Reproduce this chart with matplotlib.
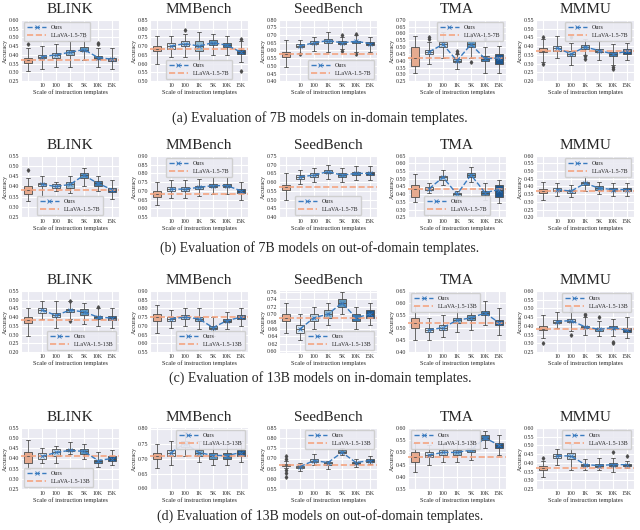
import matplotlib
matplotlib.use('Agg')
import matplotlib.pyplot as plt
import seaborn as sns

sns.set_style('darkgrid')
plt.rcParams['font.family'] = ['Liberation Serif', 'DejaVu Serif']

benchmarks = ['BLINK', 'MMBench', 'SeedBench', 'TMA', 'MMMU']
scales = ['', '10', '100', '1K', '5K', '10K', '15K']
captions = ['(a) Evaluation of 7B models on in-domain templates.',
            '(b) Evaluation of 7B models on out-of-domain templates.',
            '(c) Evaluation of 13B models on in-domain templates.',
            '(d) Evaluation of 13B models on out-of-domain templates.']
baselines = ['LLaVA-1.5-7B', 'LLaVA-1.5-7B', 'LLaVA-1.5-13B', 'LLaVA-1.5-13B']

# (a) 7B in-domain; first box of each panel is the baseline
a_med = [[0.37, 0.39, 0.40, 0.415, 0.43, 0.385, 0.375],
         [0.685, 0.70, 0.715, 0.70, 0.72, 0.705, 0.665],
         [0.575, 0.63, 0.65, 0.665, 0.65, 0.66, 0.645],
         [0.42, 0.465, 0.52, 0.40, 0.52, 0.415, 0.42],
         [0.375, 0.39, 0.355, 0.395, 0.375, 0.355, 0.37]]
a_q1 = [[0.355, 0.38, 0.385, 0.40, 0.42, 0.375, 0.365],
        [0.67, 0.685, 0.70, 0.67, 0.705, 0.695, 0.655],
        [0.56, 0.625, 0.64, 0.65, 0.64, 0.65, 0.635],
        [0.36, 0.45, 0.50, 0.39, 0.50, 0.395, 0.375],
        [0.365, 0.375, 0.345, 0.385, 0.365, 0.345, 0.355]]
a_q3 = [[0.385, 0.40, 0.41, 0.43, 0.445, 0.395, 0.385],
        [0.70, 0.72, 0.73, 0.73, 0.735, 0.72, 0.68],
        [0.59, 0.64, 0.66, 0.675, 0.66, 0.665, 0.655],
        [0.50, 0.48, 0.54, 0.41, 0.545, 0.435, 0.45],
        [0.39, 0.40, 0.37, 0.405, 0.385, 0.365, 0.385]]
a_lo = [[0.31, 0.32, 0.33, 0.33, 0.37, 0.33, 0.32],
        [0.60, 0.64, 0.64, 0.60, 0.65, 0.65, 0.61],
        [0.49, 0.585, 0.60, 0.59, 0.61, 0.59, 0.59],
        [0.31, 0.38, 0.42, 0.34, 0.42, 0.31, 0.31],
        [0.31, 0.33, 0.29, 0.35, 0.32, 0.29, 0.32]]
a_hi = [[0.44, 0.45, 0.46, 0.48, 0.50, 0.44, 0.44],
        [0.76, 0.76, 0.77, 0.78, 0.77, 0.76, 0.73],
        [0.67, 0.67, 0.69, 0.72, 0.69, 0.70, 0.69],
        [0.58, 0.54, 0.61, 0.45, 0.60, 0.50, 0.51],
        [0.44, 0.46, 0.42, 0.44, 0.43, 0.41, 0.42]]
a_out = [[[0.46], [], [], [], [], [0.46, 0.47], []],
         [[], [], [0.79], [], [], [], [0.74, 0.56]],
         [[], [0.58], [], [], [0.70, 0.60], [0.71, 0.58], []],
         [[], [0.56, 0.57], [], [0.46, 0.47], [0.39], [0.56], []],
         [[0.30, 0.45], [], [0.45], [0.345, 0.325], [], [0.28, 0.27], []]]
a_ylim = [(0.25, 0.60), (0.50, 0.85), (0.40, 0.80), (0.25, 0.70), (0.20, 0.55)]
a_leg = ['upper left', 'lower center', 'lower right', 'upper right', 'upper right']

# (b) 7B out-of-domain
b_med = [[0.385, 0.41, 0.40, 0.41, 0.455, 0.415, 0.385],
         [0.68, 0.71, 0.71, 0.72, 0.73, 0.73, 0.70],
         [0.57, 0.63, 0.64, 0.66, 0.64, 0.65, 0.65],
         [0.435, 0.435, 0.51, 0.40, 0.525, 0.41, 0.43],
         [0.37, 0.38, 0.37, 0.42, 0.39, 0.38, 0.38]]
b_q1 = [[0.365, 0.40, 0.395, 0.395, 0.44, 0.40, 0.375],
        [0.665, 0.70, 0.70, 0.71, 0.72, 0.72, 0.69],
        [0.555, 0.62, 0.63, 0.65, 0.63, 0.64, 0.64],
        [0.38, 0.425, 0.495, 0.39, 0.51, 0.395, 0.38],
        [0.355, 0.37, 0.36, 0.41, 0.38, 0.37, 0.37]]
b_q3 = [[0.40, 0.415, 0.41, 0.42, 0.465, 0.425, 0.395],
        [0.70, 0.72, 0.72, 0.73, 0.74, 0.74, 0.71],
        [0.585, 0.64, 0.65, 0.67, 0.65, 0.66, 0.66],
        [0.46, 0.445, 0.52, 0.405, 0.54, 0.42, 0.46],
        [0.385, 0.39, 0.38, 0.43, 0.40, 0.39, 0.39]]
b_lo = [[0.33, 0.35, 0.38, 0.37, 0.40, 0.38, 0.34],
        [0.62, 0.66, 0.66, 0.67, 0.68, 0.68, 0.65],
        [0.50, 0.59, 0.60, 0.62, 0.60, 0.61, 0.61],
        [0.35, 0.41, 0.46, 0.37, 0.48, 0.36, 0.34],
        [0.31, 0.34, 0.33, 0.37, 0.35, 0.34, 0.34]]
b_hi = [[0.44, 0.45, 0.42, 0.45, 0.49, 0.45, 0.43],
        [0.75, 0.76, 0.76, 0.77, 0.78, 0.78, 0.75],
        [0.65, 0.67, 0.68, 0.70, 0.68, 0.69, 0.69],
        [0.53, 0.47, 0.56, 0.42, 0.58, 0.47, 0.49],
        [0.43, 0.42, 0.41, 0.47, 0.43, 0.42, 0.42]]
b_out = [[[0.48], [], [], [], [], [], []],
         [[], [], [], [], [], [], []],
         [[], [], [], [], [], [], []],
         [[], [], [], [], [], [], []],
         [[], [], [], [], [], [], []]]
b_ylim = [(0.25, 0.55), (0.55, 0.90), (0.40, 0.75), (0.25, 0.65), (0.20, 0.60)]
b_leg = ['lower center', 'upper center', 'lower center', 'lower center', 'upper right']

# (c) 13B in-domain
c_med = [[0.385, 0.44, 0.41, 0.44, 0.43, 0.40, 0.395],
         [0.75, 0.74, 0.75, 0.74, 0.69, 0.73, 0.75],
         [0.69, 0.66, 0.69, 0.70, 0.73, 0.69, 0.70],
         [0.52, 0.49, 0.50, 0.53, 0.54, 0.56, 0.52],
         [0.385, 0.425, 0.43, 0.395, 0.38, 0.39, 0.375]]
c_q1 = [[0.365, 0.425, 0.40, 0.43, 0.415, 0.39, 0.385],
        [0.73, 0.73, 0.74, 0.73, 0.68, 0.72, 0.74],
        [0.68, 0.65, 0.68, 0.69, 0.72, 0.68, 0.69],
        [0.50, 0.48, 0.49, 0.52, 0.53, 0.55, 0.51],
        [0.375, 0.415, 0.42, 0.39, 0.37, 0.38, 0.365]]
c_q3 = [[0.40, 0.45, 0.425, 0.445, 0.445, 0.405, 0.405],
        [0.77, 0.75, 0.76, 0.75, 0.70, 0.74, 0.76],
        [0.70, 0.67, 0.70, 0.71, 0.74, 0.70, 0.71],
        [0.54, 0.50, 0.51, 0.54, 0.55, 0.57, 0.53],
        [0.40, 0.435, 0.44, 0.40, 0.39, 0.40, 0.39]]
c_lo = [[0.29, 0.39, 0.34, 0.39, 0.36, 0.35, 0.34],
        [0.66, 0.69, 0.70, 0.68, 0.64, 0.68, 0.70],
        [0.65, 0.63, 0.66, 0.67, 0.70, 0.66, 0.67],
        [0.45, 0.45, 0.46, 0.48, 0.49, 0.51, 0.47],
        [0.33, 0.39, 0.37, 0.35, 0.34, 0.34, 0.33]]
c_hi = [[0.45, 0.49, 0.49, 0.49, 0.48, 0.45, 0.45],
        [0.82, 0.79, 0.80, 0.80, 0.75, 0.78, 0.80],
        [0.73, 0.70, 0.72, 0.73, 0.76, 0.72, 0.73],
        [0.59, 0.54, 0.55, 0.58, 0.60, 0.61, 0.58],
        [0.46, 0.48, 0.48, 0.45, 0.43, 0.44, 0.45]]
c_out = [[[], [], [], [0.38, 0.495], [], [0.46], []],
         [[], [], [], [], [], [], []],
         [[], [], [], [], [], [], []],
         [[], [], [], [], [], [], []],
         [[0.30], [], [0.49, 0.50, 0.35], [0.46, 0.47], [0.45], [0.31, 0.305], []]]
c_ylim = [(0.20, 0.55), (0.55, 0.90), (0.60, 0.76), (0.40, 0.65), (0.25, 0.60)]
c_leg = ['lower right', 'lower right', 'lower right', 'upper left', 'upper right']

# (d) 13B out-of-domain
d_med = [[0.41, 0.41, 0.43, 0.44, 0.435, 0.39, 0.40],
         [0.71, 0.72, 0.75, 0.72, 0.71, 0.71, 0.72],
         [0.67, 0.66, 0.69, 0.68, 0.73, 0.68, 0.69],
         [0.48, 0.49, 0.50, 0.50, 0.51, 0.56, 0.53],
         [0.37, 0.44, 0.44, 0.39, 0.385, 0.39, 0.39]]
d_q1 = [[0.38, 0.40, 0.41, 0.435, 0.42, 0.38, 0.39],
        [0.70, 0.71, 0.74, 0.71, 0.70, 0.70, 0.71],
        [0.665, 0.655, 0.685, 0.67, 0.725, 0.675, 0.685],
        [0.46, 0.48, 0.49, 0.49, 0.50, 0.55, 0.52],
        [0.36, 0.43, 0.42, 0.385, 0.375, 0.38, 0.385]]
d_q3 = [[0.43, 0.425, 0.445, 0.445, 0.445, 0.395, 0.41],
        [0.72, 0.73, 0.76, 0.73, 0.72, 0.72, 0.73],
        [0.675, 0.665, 0.70, 0.685, 0.74, 0.685, 0.70],
        [0.50, 0.50, 0.51, 0.51, 0.52, 0.57, 0.54],
        [0.38, 0.45, 0.455, 0.395, 0.395, 0.40, 0.395]]
d_lo = [[0.35, 0.38, 0.38, 0.42, 0.40, 0.36, 0.37],
        [0.67, 0.68, 0.71, 0.69, 0.68, 0.68, 0.69],
        [0.655, 0.64, 0.67, 0.65, 0.715, 0.66, 0.675],
        [0.42, 0.45, 0.46, 0.46, 0.47, 0.52, 0.49],
        [0.32, 0.39, 0.36, 0.36, 0.36, 0.35, 0.37]]
d_hi = [[0.49, 0.45, 0.46, 0.48, 0.47, 0.43, 0.44],
        [0.75, 0.76, 0.79, 0.76, 0.75, 0.75, 0.76],
        [0.69, 0.68, 0.72, 0.69, 0.75, 0.70, 0.71],
        [0.54, 0.53, 0.54, 0.55, 0.55, 0.59, 0.57],
        [0.41, 0.48, 0.51, 0.42, 0.43, 0.43, 0.41]]
d_out = [[[], [], [], [], [], [], []],
         [[], [], [], [], [], [], []],
         [[0.70, 0.71, 0.645, 0.63, 0.61], [], [], [], [], [], []],
         [[], [], [], [], [], [], []],
         [[0.43], [], [], [], [], [0.46], [0.44]]]
d_ylim = [(0.25, 0.55), (0.60, 0.80), (0.55, 0.85), (0.35, 0.60), (0.25, 0.60)]
d_leg = ['lower left', 'upper right', 'upper right', 'upper left', 'upper right']

rows = [(a_med, a_q1, a_q3, a_lo, a_hi, a_out, a_ylim, a_leg),
        (b_med, b_q1, b_q3, b_lo, b_hi, b_out, b_ylim, b_leg),
        (c_med, c_q1, c_q3, c_lo, c_hi, c_out, c_ylim, c_leg),
        (d_med, d_q1, d_q3, d_lo, d_hi, d_out, d_ylim, d_leg)]

W, H = 640, 530
fig = plt.figure(figsize=(W / 100, H / 100), dpi=100)

blues = [sns.desaturate(c, 0.75) for c in sns.color_palette('Blues', 6)]
orange = sns.desaturate('#f4a582', 0.75)
box_colors = [orange] + blues
edge = '#4d4d4d'

col_left = [21, 150, 279, 408, 536]
row_top = [19, 155, 290, 427]
ax_w, ax_h = 98, 63
cap_y = [118, 248, 378, 516]

for r, (med, q1, q3, lo, hi, out, ylims, legs) in enumerate(rows):
    for c, name in enumerate(benchmarks):
        ax = fig.add_axes([col_left[c] / W, 1 - (row_top[r] + ax_h) / H, ax_w / W, ax_h / H])
        stats = []
        for i in range(7):
            stats.append(dict(med=med[c][i], q1=q1[c][i], q3=q3[c][i],
                              whislo=lo[c][i], whishi=hi[c][i], fliers=out[c][i]))
        bp = ax.bxp(stats, positions=range(7), widths=0.55, patch_artist=True,
                    boxprops=dict(edgecolor=edge, linewidth=0.6),
                    medianprops=dict(color=edge, linewidth=0.6),
                    whiskerprops=dict(color=edge, linewidth=0.6),
                    capprops=dict(color=edge, linewidth=0.6),
                    flierprops=dict(marker='d', markersize=1.8, markerfacecolor=edge,
                                    markeredgecolor=edge))
        for patch, col in zip(bp['boxes'], box_colors):
            patch.set_facecolor(col)
        ax.plot(range(1, 7), med[c][1:], ls='--', color='#3a7bbf', lw=1.0,
                marker='x', markersize=2.5, markeredgewidth=0.6, label='Ours', zorder=5)
        ax.axhline(med[c][0], color='#f4a582', ls='--', lw=1.2, label=baselines[r], zorder=4)
        y0, y1 = ylims[c]
        ax.set_ylim(y0 - 0.005, y1 + 0.005)
        step = 0.02 if (y1 - y0) < 0.2 else 0.05
        n = int(round((y1 - y0) / step))
        ax.set_yticks([y0 + k * step for k in range(n + 1)])
        ax.yaxis.set_major_formatter(matplotlib.ticker.FormatStrFormatter('%.2f'))
        ax.set_xlim(-0.5, 6.5)
        ax.set_xticks(range(7))
        ax.set_xticklabels(scales)
        ax.tick_params(labelsize=4.2, pad=1, length=0)
        ax.set_title(name, fontsize=11, pad=4)
        ax.set_ylabel('Accuracy', fontsize=4.5, labelpad=1)
        ax.set_xlabel('Scale of instruction templates', fontsize=4.5, labelpad=1)
        ax.legend(loc=legs[c], fontsize=4.3, handlelength=3.2, borderpad=0.5,
                  labelspacing=0.5, framealpha=0.9)
    fig.text(0.5, 1 - cap_y[r] / H, captions[r], ha='center', va='center', fontsize=10)

fig.savefig('out.png', dpi=100)
